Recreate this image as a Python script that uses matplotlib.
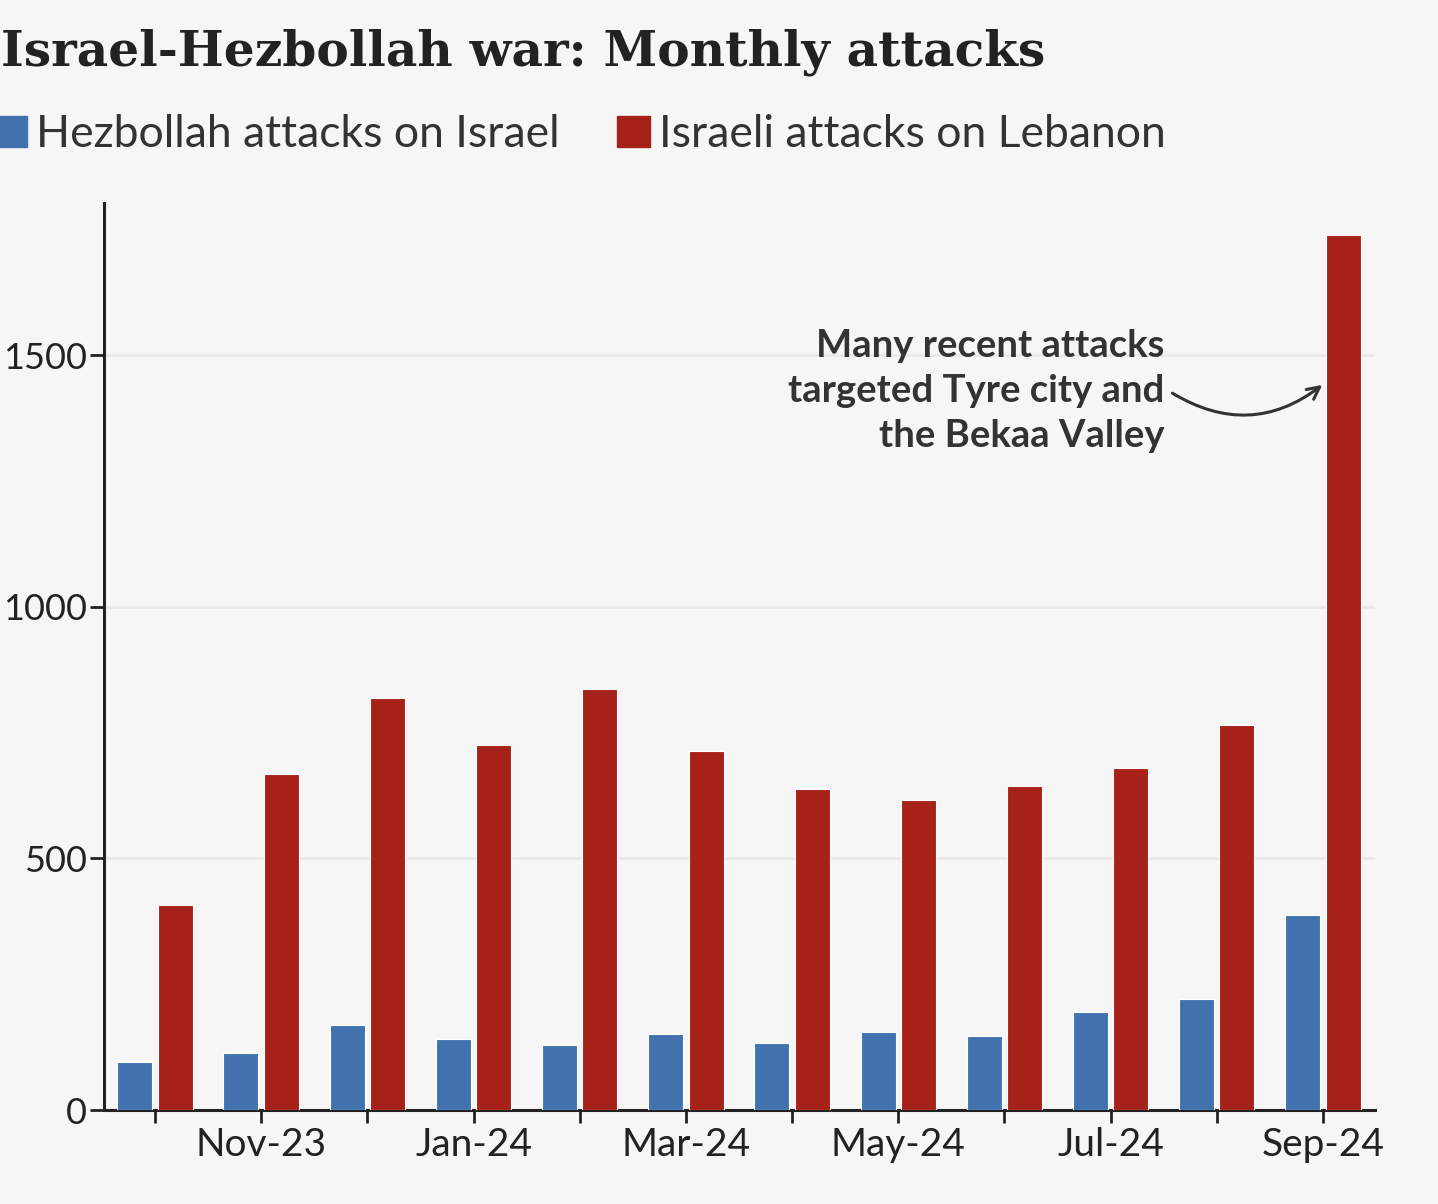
import matplotlib
matplotlib.use("Agg")
import matplotlib.pyplot as plt
from matplotlib.patches import Rectangle
import numpy as np

# Monthly attack counts, Oct 2023 - Sep 2024
months = ["Oct-23", "Nov-23", "Dec-23", "Jan-24", "Feb-24", "Mar-24",
          "Apr-24", "May-24", "Jun-24", "Jul-24", "Aug-24", "Sep-24"]
hezbollah_attacks = [95, 113, 169, 141, 129, 151, 133, 155, 147, 195, 221, 387]
israeli_attacks = [407, 668, 819, 725, 836, 713, 638, 616, 644, 680, 765, 1739]
y_ticks = [0, 500, 1000, 1500]

series_labels = ["Hezbollah attacks on Israel", "Israeli attacks on Lebanon"]
title = "Israel-Hezbollah war: Monthly attacks"
note = "Many recent attacks\ntargeted Tyre city and\nthe Bekaa Valley"

BG = "#f6f6f6"
INK = "#222222"
BLUE = "#4172ae"
RED = "#a62118"
SANS = ["Lato", "DejaVu Sans"]

W, H = 1438, 1204
fig = plt.figure(figsize=(W / 100, H / 100), dpi=100, facecolor=BG)
ax = fig.add_axes([104 / W, 1 - 1110 / H, (1375 - 104) / W, (1110 - 203) / H])
ax.set_facecolor(BG)

x = np.arange(len(months))
width = 0.33
off = 0.19
ax.bar(x - off, hezbollah_attacks, width, color=BLUE, edgecolor="white", linewidth=0.8, zorder=3)
ax.bar(x + off, israeli_attacks, width, color=RED, edgecolor="white", linewidth=0.8, zorder=3)

ax.set_xlim(-0.48, 11.49)
ax.set_ylim(0, 1802)

ax.set_yticks(y_ticks)
ax.set_yticklabels([str(v) for v in y_ticks], family=SANS, fontsize=26, color=INK)
ax.set_xticks(x)
ax.set_xticklabels([m if i % 2 == 1 else "" for i, m in enumerate(months)],
                   family=SANS, fontsize=28, color=INK)
ax.tick_params(axis="y", length=10, width=2, color=INK, pad=2.5)
ax.tick_params(axis="x", length=9, width=2, color=INK, pad=3)

for s in ["top", "right"]:
    ax.spines[s].set_visible(False)
for s in ["left", "bottom"]:
    ax.spines[s].set_linewidth(2.2)
    ax.spines[s].set_color(INK)
ax.grid(axis="y", color="#e8e8e8", linewidth=1.8, zorder=0)
ax.set_axisbelow(True)

# Title and legend
fig.text(1 / W, 1 - 65 / H, title, family="DejaVu Serif", fontweight="bold",
         fontsize=35, color=INK, va="baseline", ha="left")

legend_y = 1 - 147 / H
sq_h = 31 / H
fig.patches.append(Rectangle((-6 / W, legend_y), 33 / W, sq_h, color=BLUE, transform=fig.transFigure))
fig.patches.append(Rectangle((617 / W, legend_y), 33 / W, sq_h, color=RED, transform=fig.transFigure))
fig.text(36 / W, legend_y, series_labels[0], family=SANS, fontsize=32, color="#333333", va="baseline")
fig.text(659 / W, legend_y, series_labels[1], family=SANS, fontsize=32, color="#333333", va="baseline")

# Annotation pointing at the September bar
sep = len(months) - 1
ax.text(9.51, 1428, note, family=SANS, fontweight="bold", fontsize=27.5, color="#333333",
        ha="right", va="center", linespacing=1.4)
ax.annotate("", xy=(sep + off - width / 2 - 0.01, israeli_attacks[sep] - 295),
            xytext=(9.56, 1427),
            arrowprops=dict(arrowstyle="->", color="#333333", lw=2.2,
                            connectionstyle="arc3,rad=0.35", mutation_scale=22))

fig.savefig("out.png", dpi=100, facecolor=BG)
